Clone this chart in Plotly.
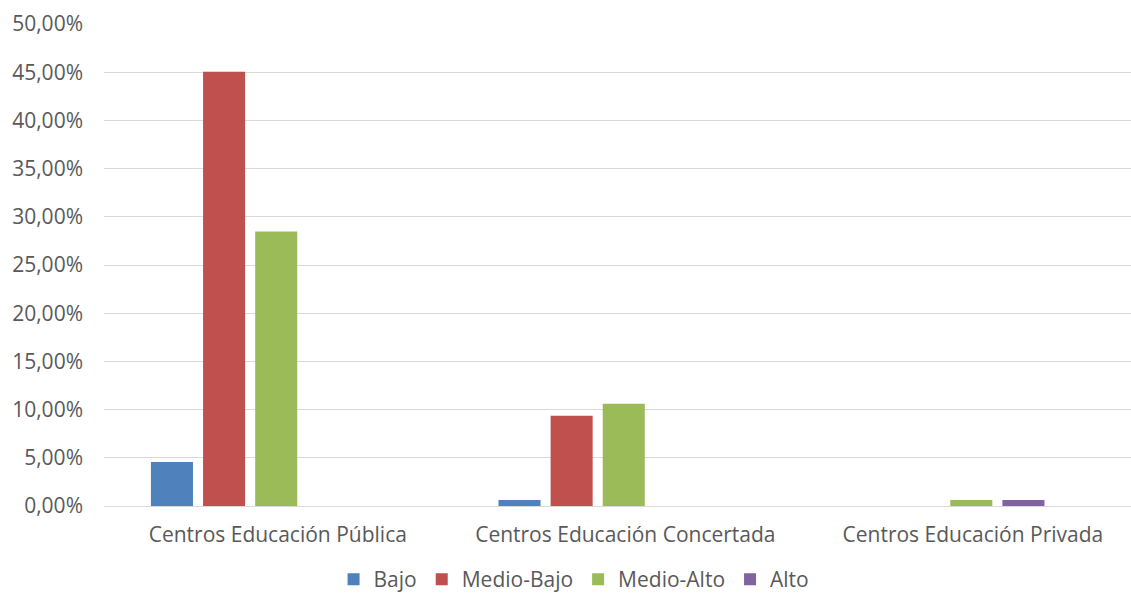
import plotly.graph_objects as go

# Share of students by socioeconomic level, per type of school
categorias = ["Centros Educación Pública", "Centros Educación Concertada", "Centros Educación Privada"]
niveles = ["Bajo", "Medio-Bajo", "Medio-Alto", "Alto"]
bajo = [4.57, 0.62, 0.0]
medio_bajo = [45.05, 9.36, 0.0]
medio_alto = [28.48, 10.60, 0.62]
alto = [0.0, 0.0, 0.62]
ticks_y = [0, 5, 10, 15, 20, 25, 30, 35, 40, 45, 50]
etiquetas_y = ["0,00%", "5,00%", "10,00%", "15,00%", "20,00%", "25,00%",
               "30,00%", "35,00%", "40,00%", "45,00%", "50,00%"]

series = [bajo, medio_bajo, medio_alto, alto]
colores = ["#4F81BD", "#C0504D", "#9BBB59", "#8064A2"]
desplazamientos = [-0.365, -0.215, -0.065, 0.085]
ancho = 0.121

texto = "#595959"
fuente = "Open Sans"
tam = 21

fig = go.Figure()
for nombre, valores, color, off in zip(niveles, series, colores, desplazamientos):
    fig.add_trace(go.Bar(
        name=nombre,
        x=categorias,
        y=valores,
        marker=dict(color=color, line=dict(width=0)),
        width=ancho,
        offset=off,
    ))

fig.update_layout(
    width=1131,
    height=597,
    barmode="overlay",
    plot_bgcolor="white",
    paper_bgcolor="white",
    margin=dict(l=104, r=0, t=24, b=91, pad=0, autoexpand=False),
    font=dict(family=fuente, size=tam, color=texto),
    showlegend=True,
    legend=dict(
        orientation="h",
        x=0.4577,
        xanchor="center",
        y=-0.11,
        yanchor="top",
        font=dict(family=fuente, size=tam, color=texto),
        itemwidth=30,
        tracegroupgap=0,
    ),
)

fig.update_xaxes(
    type="category",
    range=[-0.5, 2.455],
    showgrid=False,
    showline=False,
    zeroline=False,
    ticks="",
    ticklabelstandoff=14,
    tickfont=dict(family=fuente, size=tam, color=texto),
)

fig.update_yaxes(
    range=[0, 50],
    tickvals=ticks_y,
    ticktext=etiquetas_y,
    showgrid=True,
    gridcolor="#D9D9D9",
    gridwidth=1.4,
    zeroline=True,
    zerolinecolor="#D9D9D9",
    zerolinewidth=1.4,
    showline=False,
    ticks="",
    ticklabelstandoff=20,
    tickfont=dict(family=fuente, size=tam, color=texto),
)

fig.write_html("out.html")
